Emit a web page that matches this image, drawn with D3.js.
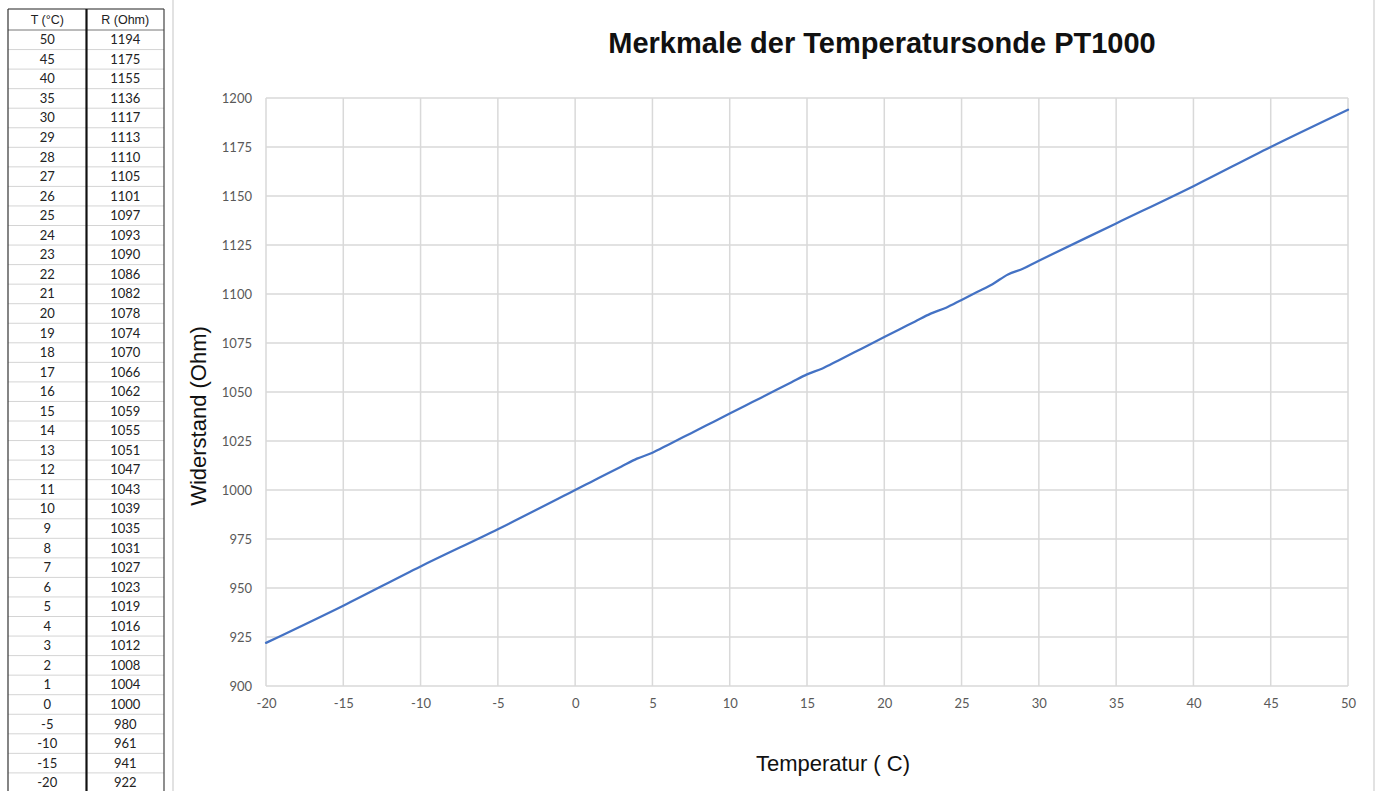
<!DOCTYPE html>
<html>
<head>
<meta charset="utf-8">
<script src="https://cdn.jsdelivr.net/npm/d3@7"></script>
<style>
  html, body { margin: 0; padding: 0; background: #fff; }
  svg { display: block; }
</style>
</head>
<body>
<svg id="chart" width="1383" height="791"></svg>
<script>
// ---- data (as in the table, descending) ----
const tableHeaders = ["T (°C)", "R (Ohm)"];
const tempC = [50, 45, 40, 35, 30, 29, 28, 27, 26, 25, 24, 23, 22, 21, 20, 19, 18, 17, 16, 15, 14, 13, 12, 11, 10, 9, 8, 7, 6, 5, 4, 3, 2, 1, 0, -5, -10, -15, -20];
const resistOhm = [1194, 1175, 1155, 1136, 1117, 1113, 1110, 1105, 1101, 1097, 1093, 1090, 1086, 1082, 1078, 1074, 1070, 1066, 1062, 1059, 1055, 1051, 1047, 1043, 1039, 1035, 1031, 1027, 1023, 1019, 1016, 1012, 1008, 1004, 1000, 980, 961, 941, 922];
const xTicks = [-20, -15, -10, -5, 0, 5, 10, 15, 20, 25, 30, 35, 40, 45, 50];
const yTicks = [900, 925, 950, 975, 1000, 1025, 1050, 1075, 1100, 1125, 1150, 1175, 1200];
const chartTitle = "Merkmale der Temperatursonde PT1000";
const xTitle = "Temperatur ( C)";
const yTitle = "Widerstand (Ohm)";

const svg = d3.select("#chart");

// ---- table ----
const tbl = svg.append("g");
const colX = [8, 86.5, 164];
const headTop = 9, headBottom = 30, rowH = 19.55;
const rowIdx = d3.range(tempC.length);
const rowY = d3.scaleLinear().domain([0, 1]).range([headBottom, headBottom + rowH]);

tbl.selectAll("line.row").data(d3.range(1, tempC.length + 1)).join("line")
  .attr("x1", colX[0]).attr("x2", colX[2])
  .attr("y1", d => rowY(d)).attr("y2", d => rowY(d))
  .attr("stroke", "#d4d4d4").attr("stroke-width", 1);

tbl.append("line").attr("x1", colX[0]).attr("x2", colX[2]).attr("y1", headTop).attr("y2", headTop)
  .attr("stroke", "#222").attr("stroke-width", 1.2);
tbl.append("line").attr("x1", colX[0]).attr("x2", colX[2]).attr("y1", headBottom).attr("y2", headBottom)
  .attr("stroke", "#777").attr("stroke-width", 1);
tbl.append("line").attr("x1", colX[0]).attr("x2", colX[0]).attr("y1", headTop).attr("y2", 791)
  .attr("stroke", "#333").attr("stroke-width", 1.2);
tbl.append("line").attr("x1", colX[1]).attr("x2", colX[1]).attr("y1", headTop).attr("y2", 791)
  .attr("stroke", "#111").attr("stroke-width", 2.2);
tbl.append("line").attr("x1", colX[2]).attr("x2", colX[2]).attr("y1", headTop).attr("y2", 791)
  .attr("stroke", "#444").attr("stroke-width", 1.2);

tbl.selectAll("text.head").data(tableHeaders).join("text")
  .attr("x", (d, i) => (colX[i] + colX[i + 1]) / 2)
  .attr("y", (headTop + headBottom) / 2 + 4.5)
  .attr("text-anchor", "middle")
  .attr("font-family", "Liberation Sans, Arial, sans-serif")
  .attr("font-size", 12.5).attr("fill", "#222")
  .text(d => d);

tbl.selectAll("text.t").data(rowIdx).join("text")
  .attr("x", (colX[0] + colX[1]) / 2)
  .attr("y", i => rowY(i + 0.5) + 4.5)
  .attr("text-anchor", "middle")
  .attr("font-family", "Lato, sans-serif").attr("font-size", 13).attr("fill", "#222")
  .text(i => String(tempC[i]));
tbl.selectAll("text.r").data(rowIdx).join("text")
  .attr("x", (colX[1] + colX[2]) / 2)
  .attr("y", i => rowY(i + 0.5) + 4.5)
  .attr("text-anchor", "middle")
  .attr("font-family", "Lato, sans-serif").attr("font-size", 13).attr("fill", "#222")
  .text(i => String(resistOhm[i]));

// ---- chart panel ----
svg.append("line").attr("x1", 173).attr("x2", 173).attr("y1", 0).attr("y2", 791)
  .attr("stroke", "#d9d9d9").attr("stroke-width", 1.5);
svg.append("line").attr("x1", 1374).attr("x2", 1374).attr("y1", 0).attr("y2", 791)
  .attr("stroke", "#d9d9d9").attr("stroke-width", 1.5);

const x = d3.scaleLinear().domain([-20, 50]).range([266, 1348]);
const y = d3.scaleLinear().domain([900, 1200]).range([686, 98]);

const grid = svg.append("g");
grid.selectAll("line.gx").data(xTicks).join("line")
  .attr("x1", d => x(d)).attr("x2", d => x(d)).attr("y1", y(1200)).attr("y2", y(900))
  .attr("stroke", "#d9d9d9").attr("stroke-width", 1.5);
grid.selectAll("line.gy").data(yTicks).join("line")
  .attr("x1", x(-20)).attr("x2", x(50)).attr("y1", d => y(d)).attr("y2", d => y(d))
  .attr("stroke", "#d9d9d9").attr("stroke-width", 1.5);

const xAxis = svg.append("g").attr("transform", `translate(0,${y(900)})`)
  .call(d3.axisBottom(x).tickValues(xTicks).tickSize(0).tickPadding(13).tickFormat(d => String(d)));
const yAxis = svg.append("g").attr("transform", `translate(${x(-20)},0)`)
  .call(d3.axisLeft(y).tickValues(yTicks).tickSize(0).tickPadding(14).tickFormat(d => String(d)));
[xAxis, yAxis].forEach(a => {
  a.select(".domain").remove();
  a.selectAll("text").attr("font-family", "Lato, sans-serif").attr("font-size", 13).attr("fill", "#595959");
});

// ---- series ----
const pts = tempC.map((t, i) => ({ t, r: resistOhm[i] })).sort((a, b) => a.t - b.t);
svg.append("path").datum(pts)
  .attr("fill", "none").attr("stroke", "#4472c4").attr("stroke-width", 2.25)
  .attr("stroke-linejoin", "round").attr("stroke-linecap", "round")
  .attr("d", d3.line().x(d => x(d.t)).y(d => y(d.r)).curve(d3.curveCatmullRom.alpha(0.5)));

// ---- titles ----
svg.append("text").attr("x", 882).attr("y", 53).attr("text-anchor", "middle")
  .attr("font-family", "Liberation Sans, Arial, sans-serif").attr("font-weight", "bold")
  .attr("font-size", 29).attr("fill", "#111").text(chartTitle);
svg.append("text").attr("x", 833).attr("y", 771).attr("text-anchor", "middle")
  .attr("font-family", "Liberation Sans, Arial, sans-serif")
  .attr("font-size", 22).attr("fill", "#111").text(xTitle);
svg.append("text").attr("transform", "translate(206,416) rotate(-90)").attr("text-anchor", "middle")
  .attr("font-family", "Liberation Sans, Arial, sans-serif")
  .attr("font-size", 22).attr("fill", "#111").text(yTitle);
</script>
</body>
</html>
